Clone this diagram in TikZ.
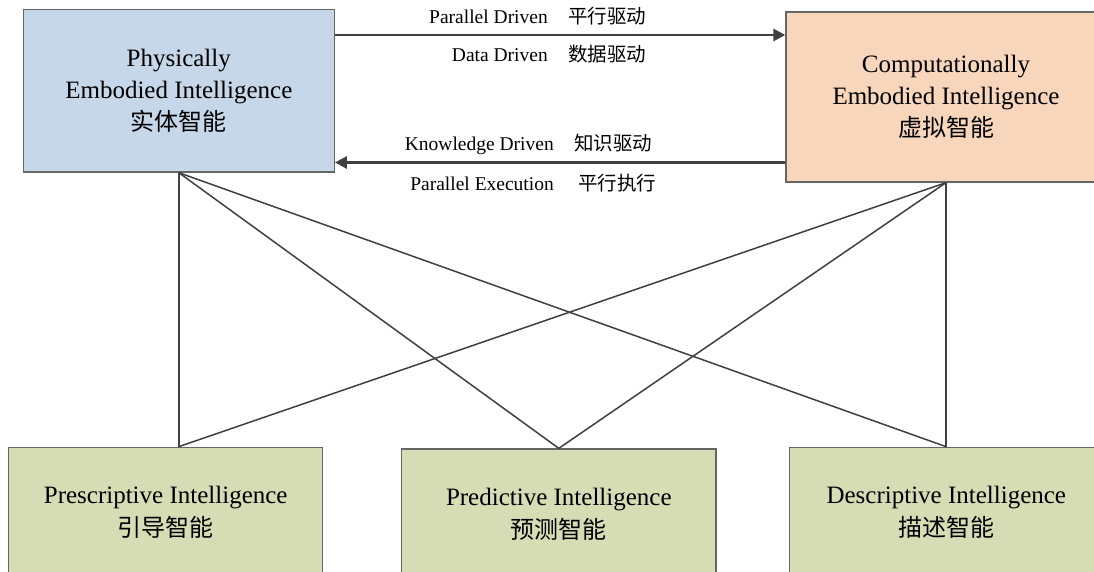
\documentclass[tikz,border=0pt]{standalone}
\usepackage{fontspec}
\setmainfont{Liberation Serif}
\newfontfamily\cjk{Noto Sans CJK SC}
\usetikzlibrary{arrows.meta}

\definecolor{physblue}{HTML}{C5D7E8}
\definecolor{comppeach}{HTML}{F7D6BB}
\definecolor{kindgreen}{HTML}{D6DCB4}
\definecolor{edgegray}{HTML}{666666}
\definecolor{linkgray}{HTML}{404040}

\tikzset{
  box/.style={draw=edgegray, line width=1.3pt, align=center, inner sep=0pt,
              font=\fontsize{25}{32}\selectfont},
  kind/.style={box, fill=kindgreen, minimum height=130pt,
               font=\fontsize{25}{33}\selectfont},
  toplabel/.style={font=\fontsize{19.5}{22}\selectfont, inner sep=0pt},
  flow/.style={draw=linkgray, line width=2.8pt,
               -{Triangle[length=12pt,width=12pt]}},
  link/.style={draw=linkgray, line width=1.5pt},
}

\begin{document}
\begin{tikzpicture}[x=1pt,y=-1pt]
  \useasboundingbox (0,0) rectangle (1094,572);
  \fill[white] (0,0) rectangle (1094,572);
  \clip (0,0) rectangle (1094,572);

  % the two embodied intelligences
  \node[box, fill=physblue, minimum width=311pt, minimum height=162.7pt]
    (phys) at (178.8,90.7)
    {Physically\\Embodied Intelligence\\{\cjk\fontsize{24}{32}\selectfont 实体智能}};
  \node[box, fill=comppeach, minimum width=320pt, minimum height=170pt]
    (comp) at (946,97)
    {Computationally\\Embodied Intelligence\\{\cjk\fontsize{24}{32}\selectfont 虚拟智能}};

  % the three kinds of intelligence
  \node[kind, minimum width=314pt] (pres) at (165.7,512.3)
    {Prescriptive Intelligence\\{\cjk\fontsize{24}{33}\selectfont 引导智能}};
  \node[kind, minimum width=314.3pt] (pred) at (558.8,514)
    {Predictive Intelligence\\{\cjk\fontsize{24}{33}\selectfont 预测智能}};
  \node[kind, minimum width=314pt] (desc) at (946.3,512.3)
    {Descriptive Intelligence\\{\cjk\fontsize{24}{33}\selectfont 描述智能}};

  % levels of the two flow arrows
  \coordinate (upper) at (0,35);
  \coordinate (lower) at (0,162.5);

  \draw[flow] (phys.east |- upper) -- (comp.west |- upper);
  \draw[flow] (comp.west |- lower) -- (phys.east |- lower);

  % arrow labels
  \node[toplabel, anchor=base east] (pdEn) at (548,24) {Parallel Driven};
  \node[toplabel, anchor=base west] (pdZh) at (568,24) {\cjk 平行驱动};
  \node[toplabel, anchor=base east] (ddEn) at (548,62) {Data Driven};
  \node[toplabel, anchor=base west] (ddZh) at (568,62) {\cjk 数据驱动};
  \node[toplabel, anchor=base east] (kdEn) at (554,151) {Knowledge Driven};
  \node[toplabel, anchor=base west] (kdZh) at (574,151) {\cjk 知识驱动};
  \node[toplabel, anchor=base east] (peEn) at (554,190) {Parallel Execution};
  \node[toplabel, anchor=base west] (peZh) at (578,190) {\cjk 平行执行};

  % links from each embodied intelligence to every kind
  \draw[link] (phys.south) -- (pres.north -| phys.south);
  \draw[link] (phys.south) -- (pred.north);
  \draw[link] (phys.south) -- (desc.north -| comp.south);
  \draw[link] (comp.south) -- (pres.north -| phys.south);
  \draw[link] (comp.south) -- (pred.north);
  \draw[link] (comp.south) -- (desc.north -| comp.south);
\end{tikzpicture}
\end{document}
